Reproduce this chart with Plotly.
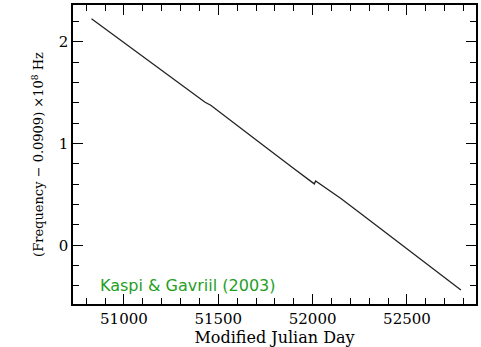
import plotly.graph_objects as go

# Spin frequency history (MJD, frequency offset in units of 1e-8 Hz)
mjd = [50828, 50950, 51100, 51250, 51380, 51430, 51460, 51600, 51750,
       51900, 52009, 52016, 52060, 52150, 52300, 52450, 52600, 52786]
freq = [2.225, 2.058, 1.853, 1.648, 1.471, 1.405, 1.375, 1.174, 0.965,
        0.755, 0.603, 0.632, 0.575, 0.460, 0.248, 0.036, -0.177, -0.440]

label_text = "Kaspi & Gavriil (2003)"

axis_font = dict(family="DejaVu Serif", size=15, color="black")

fig = go.Figure()
fig.add_trace(go.Scatter(
    x=mjd, y=freq, mode="lines",
    line=dict(color="#222222", width=1.3),
    hoverinfo="skip", showlegend=False,
))

common = dict(
    showline=True, linecolor="black", linewidth=1.5, mirror="allticks",
    ticks="inside", ticklen=10, tickwidth=1.2, tickcolor="black",
    showgrid=False, zeroline=False, tickfont=axis_font, tickformat="d",
    layer="above traces",
)

fig.update_xaxes(
    range=[50730, 52866], tick0=51000, dtick=500,
    minor=dict(ticks="inside", ticklen=6, tickwidth=1.1, tickcolor="black",
               tick0=51000, dtick=100, showgrid=False),
    title=dict(text="Modified Julian Day",
               font=dict(family="DejaVu Serif", size=16, color="black"), standoff=2),
    **common,
)
fig.update_yaxes(
    range=[-0.577, 2.36], tick0=0, dtick=1,
    minor=dict(ticks="inside", ticklen=6, tickwidth=1.1, tickcolor="black",
               tick0=0, dtick=0.2, showgrid=False),
    title=dict(text="(Frequency − 0.0909) ×10<sup>8</sup> Hz",
               font=dict(family="DejaVu Serif", size=13, color="black"), standoff=12),
    **common,
)

fig.add_annotation(
    text=label_text, xref="paper", yref="paper", x=0.062, y=0.0635,
    xanchor="left", yanchor="middle", showarrow=False,
    font=dict(family="DejaVu Sans", size=16, color="#1fa01f"),
)

fig.update_layout(
    width=481, height=347,
    margin=dict(l=73, r=3, t=5, b=43),
    paper_bgcolor="white", plot_bgcolor="white",
)

fig.write_html("out.html")
